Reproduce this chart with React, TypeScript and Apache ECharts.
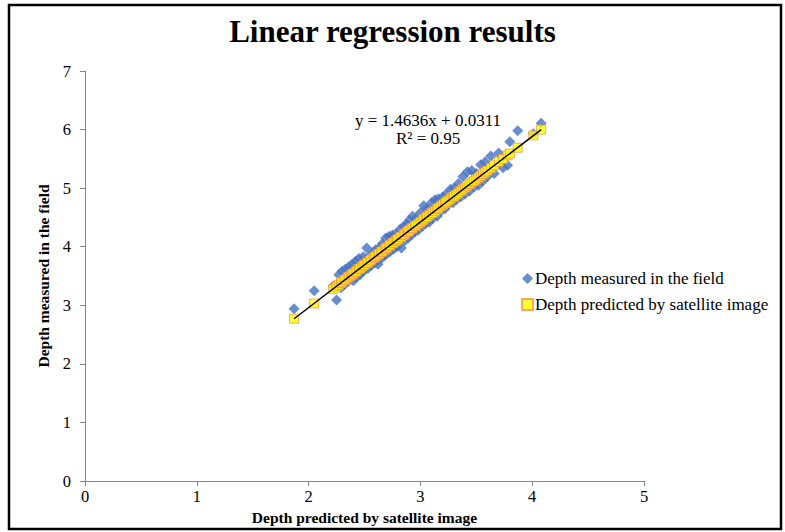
import React, { useEffect, useRef } from "react";
import * as echarts from "echarts";

const titleText = "Linear regression results";
const xAxisName = "Depth predicted by satellite image";
const yAxisName = "Depth measured in the field";
const measuredName = "Depth measured in the field";
const predictedName = "Depth predicted by satellite image";
const equationLines = ["y = 1.4636x + 0.0311", "R² = 0.95"];

// predicted depth (x) for each sample
const predictedX = [
  1.87, 2.05, 2.22, 2.25, 2.27, 2.29, 2.30, 2.32, 2.33, 2.35, 2.36, 2.38, 2.39, 2.40,
  2.42, 2.43, 2.45, 2.46, 2.48, 2.49, 2.50, 2.52, 2.53, 2.55, 2.56, 2.58, 2.59, 2.60,
  2.62, 2.63, 2.65, 2.66, 2.68, 2.69, 2.70, 2.72, 2.73, 2.75, 2.76, 2.78, 2.79, 2.80,
  2.82, 2.83, 2.85, 2.86, 2.88, 2.89, 2.90, 2.92, 2.93, 2.95, 2.96, 2.98, 3.00, 3.02,
  3.03, 3.05, 3.06, 3.08, 3.10, 3.11, 3.13, 3.15, 3.16, 3.18, 3.20, 3.22, 3.23, 3.25,
  3.27, 3.29, 3.30, 3.32, 3.34, 3.36, 3.38, 3.40, 3.42, 3.44, 3.46, 3.48, 3.50, 3.52,
  3.54, 3.56, 3.58, 3.60, 3.63, 3.66, 3.70, 3.74, 3.78, 3.80, 3.87, 4.01, 4.08
];

// measured depth (blue diamonds)
const measuredY = [
  2.94, 3.25, 3.33, 3.09, 3.52, 3.30, 3.58, 3.35, 3.62, 3.40, 3.66, 3.45, 3.70, 3.42,
  3.75, 3.48, 3.80, 3.52, 3.58, 3.83, 3.60, 3.98, 3.63, 3.85, 3.68, 3.90, 3.72, 3.95,
  3.70, 3.98, 3.80, 4.05, 3.85, 4.15, 3.88, 4.18, 3.92, 4.20, 3.96, 4.22, 4.00, 4.05,
  4.30, 3.98, 4.35, 4.10, 4.38, 4.15, 4.45, 4.20, 4.52, 4.25, 4.48, 4.28, 4.58, 4.35,
  4.70, 4.40, 4.65, 4.42, 4.75, 4.48, 4.80, 4.52, 4.82, 4.60, 4.85, 4.65, 4.90, 4.72,
  4.98, 4.75, 5.00, 4.80, 5.08, 4.85, 5.20, 4.90, 5.28, 4.95, 5.30, 5.02, 5.25, 5.05,
  5.40, 5.12, 5.45, 5.20, 5.55, 5.25, 5.60, 5.35, 5.39, 5.79, 5.98, 5.93, 6.11
];

// predicted depth on fitted line (yellow squares)
const predictedY = [
  2.77, 3.03, 3.28, 3.32, 3.35, 3.38, 3.40, 3.43, 3.44, 3.47, 3.49, 3.51, 3.53, 3.54,
  3.57, 3.59, 3.62, 3.63, 3.66, 3.68, 3.69, 3.72, 3.73, 3.76, 3.78, 3.81, 3.82, 3.84,
  3.87, 3.88, 3.91, 3.92, 3.95, 3.97, 3.98, 4.01, 4.03, 4.06, 4.07, 4.10, 4.11, 4.13,
  4.16, 4.17, 4.20, 4.22, 4.25, 4.26, 4.28, 4.31, 4.32, 4.35, 4.36, 4.39, 4.42, 4.45,
  4.47, 4.50, 4.51, 4.54, 4.57, 4.58, 4.61, 4.64, 4.66, 4.69, 4.72, 4.74, 4.76, 4.79,
  4.82, 4.85, 4.86, 4.89, 4.92, 4.95, 4.98, 5.01, 5.04, 5.07, 5.10, 5.12, 5.15, 5.18,
  5.21, 5.24, 5.27, 5.30, 5.34, 5.39, 5.45, 5.50, 5.56, 5.59, 5.69, 5.90, 6.00
];

const trendX = [1.87, 4.08];
const trendY = [2.77, 6.00];

const serif = "'Liberation Serif', 'DejaVu Serif', serif";

export default function App() {
  const ref = useRef<HTMLDivElement>(null);
  useEffect(() => {
    if (!ref.current) return;
    const chart = echarts.init(ref.current, undefined, { renderer: "svg" });
    const measured = predictedX.map((x, i) => [x, measuredY[i]]);
    const predicted = predictedX.map((x, i) => [x, predictedY[i]]);
    const trend = trendX.map((x, i) => [x, trendY[i]]);
    chart.setOption({
      animation: false,
      backgroundColor: "#fff",
      title: {
        text: titleText,
        left: "center",
        top: 11,
        textStyle: { fontFamily: serif, fontSize: 31, fontWeight: "bold", color: "#000" },
      },
      legend: {
        orient: "vertical",
        left: 516,
        top: 265,
        itemWidth: 11,
        itemHeight: 11,
        itemGap: 9,
        textStyle: { fontFamily: serif, fontSize: 17, color: "#000", padding: [0, 0, 0, -3] },
        data: [measuredName, predictedName],
      },
      grid: { left: 85, right: 141, top: 71, bottom: 51 },
      xAxis: {
        type: "value",
        min: 0,
        max: 5,
        interval: 1,
        name: xAxisName,
        nameLocation: "middle",
        nameGap: 27,
        nameTextStyle: { fontFamily: serif, fontSize: 15.5, fontWeight: "bold", color: "#000" },
        axisLine: { lineStyle: { color: "#868686", width: 1 } },
        axisTick: { show: true, length: 5, lineStyle: { color: "#868686" } },
        axisLabel: { fontFamily: serif, fontSize: 16.5, color: "#000", margin: 7 },
        splitLine: { show: false },
      },
      yAxis: {
        type: "value",
        min: 0,
        max: 7,
        interval: 1,
        name: yAxisName,
        nameLocation: "middle",
        nameGap: 31,
        nameRotate: 90,
        nameTextStyle: { fontFamily: serif, fontSize: 15.5, fontWeight: "bold", color: "#000" },
        axisLine: { show: true, lineStyle: { color: "#868686", width: 1 } },
        axisTick: { show: true, length: 5, lineStyle: { color: "#868686" } },
        axisLabel: { fontFamily: serif, fontSize: 16.5, color: "#000", margin: 14 },
        splitLine: { show: false },
      },
      graphic: [
        {
          type: "rect",
          shape: { x: 9, y: 5, width: 772, height: 524 },
          style: { fill: "none", stroke: "#000", lineWidth: 2.5 },
          z: 100,
        },
        {
          type: "text",
          left: 355,
          top: 112,
          style: { text: equationLines[0], font: `17px ${serif}`, fill: "#000" },
        },
        {
          type: "text",
          left: 396,
          top: 130,
          style: { text: equationLines[1], font: `17px ${serif}`, fill: "#000" },
        },
      ],
      series: [
        {
          name: measuredName,
          type: "scatter",
          symbol: "diamond",
          symbolSize: 11,
          itemStyle: { color: "#4472C4" },
          data: measured,
          z: 2,
        },
        {
          name: predictedName,
          type: "scatter",
          symbol: "rect",
          symbolSize: 9,
          itemStyle: { color: "#FFFF00", borderColor: "#F79646", borderWidth: 1 },
          data: predicted,
          z: 3,
        },
        {
          name: "trend",
          type: "line",
          symbol: "none",
          lineStyle: { color: "#000", width: 1.5 },
          data: trend,
          z: 4,
          silent: true,
        },
      ],
    });
    return () => chart.dispose();
  }, []);
  return (
    <div
      ref={ref}
      style={{ position: "absolute", left: 0, top: 0, width: 785, height: 532 }}
    />
  );
}
